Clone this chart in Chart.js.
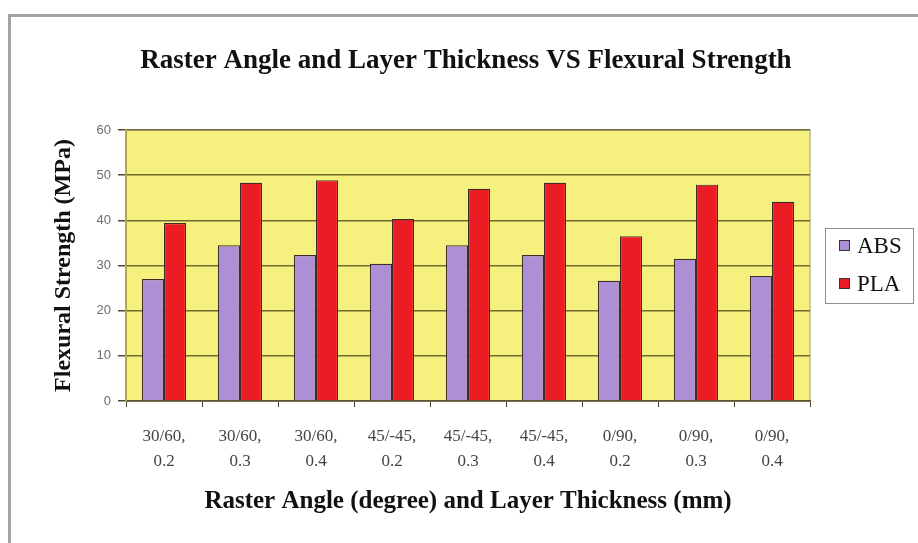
<!DOCTYPE html>
<html>
<head>
<meta charset="utf-8">
<script src="https://cdn.jsdelivr.net/npm/chart.js@4.4.1/dist/chart.umd.min.js"></script>
<style>
  html, body { margin: 0; padding: 0; background: #fff; }
  #wrap { position: relative; width: 918px; height: 543px; overflow: hidden; }
  #frame { position: absolute; left: 8px; top: 14px; width: 960px; height: 600px;
           border-left: 3px solid #a4a4a4; border-top: 3px solid #a4a4a4; }
  canvas { position: absolute; left: 0; top: 0; }
</style>
</head>
<body>
<div id="wrap">
  <div id="frame"></div>
  <canvas id="myChart" width="918" height="543"></canvas>
</div>
<script>
var chartTitle = 'Raster Angle and Layer Thickness VS Flexural Strength';
var xTitle = 'Raster Angle (degree) and Layer Thickness (mm)';
var yTitle = 'Flexural Strength (MPa)';

var categories = [
    ['30/60,', '0.2'], ['30/60,', '0.3'], ['30/60,', '0.4'],
    ['45/-45,', '0.2'], ['45/-45,', '0.3'], ['45/-45,', '0.4'],
    ['0/90,', '0.2'], ['0/90,', '0.3'], ['0/90,', '0.4']
];
var absValues = [27.0, 34.5, 32.3, 30.4, 34.5, 32.3, 26.6, 31.5, 27.7];
var plaValues = [39.4, 48.3, 48.9, 40.3, 47.0, 48.3, 36.5, 47.9, 44.1];
var yTicks = [0, 10, 20, 30, 40, 50, 60];

var serif = "'Liberation Serif', 'Times New Roman', serif";

// yellow plot area + its border
var plotBackground = {
    id: 'plotBackground',
    beforeDraw: function (chart) {
        var ctx = chart.ctx, a = chart.chartArea;
        ctx.save();
        ctx.fillStyle = '#f6f17e';
        ctx.fillRect(a.left, a.top, a.right - a.left, a.bottom - a.top);
        ctx.strokeStyle = '#b8b6a0';
        ctx.lineWidth = 1.5;
        ctx.strokeRect(a.left, a.top, a.right - a.left, a.bottom - a.top);
        ctx.restore();
    }
};

// title on top and the boxed legend on the right
var extras = {
    id: 'extras',
    afterDraw: function (chart) {
        var ctx = chart.ctx, a = chart.chartArea;
        ctx.save();
        ctx.fillStyle = '#111';
        ctx.font = 'bold 27px ' + serif;
        ctx.textAlign = 'center';
        ctx.textBaseline = 'middle';
        ctx.fillText(chartTitle, 466, 61);

        var lx = a.right + 15, lw = 88, lh = 75;
        var ly = (a.top + a.bottom) / 2 - lh / 2;
        ctx.strokeStyle = '#8c8c8c';
        ctx.lineWidth = 1;
        ctx.strokeRect(lx + 0.5, ly + 0.5, lw, lh);
        ctx.font = '23px ' + serif;
        ctx.textAlign = 'left';
        chart.data.datasets.forEach(function (ds, i) {
            var cy = ly + 18 + i * 38;
            ctx.fillStyle = ds.backgroundColor;
            ctx.fillRect(lx + 14, cy - 6, 11, 11);
            ctx.strokeStyle = '#333';
            ctx.strokeRect(lx + 14.5, cy - 5.5, 10, 10);
            ctx.fillStyle = '#111';
            ctx.fillText(ds.label, lx + 32, cy + 1);
        });
        ctx.restore();
    }
};

var ctx = document.getElementById('myChart').getContext('2d');
new Chart(ctx, {
    type: 'bar',
    data: {
        labels: categories,
        datasets: [
            { label: 'ABS', data: absValues, backgroundColor: '#ad8fd6', borderColor: '#3c2c28', borderWidth: 1.2 },
            { label: 'PLA', data: plaValues, backgroundColor: '#ec1c24', borderColor: '#3c2c28', borderWidth: 1.2 }
        ]
    },
    options: {
        responsive: false,
        animation: false,
        layout: { padding: { left: 0, right: 108, top: 130, bottom: 0 } },
        categoryPercentage: 0.58,
        barPercentage: 1.0,
        plugins: {
            legend: { display: false },
            title: { display: false },
            tooltip: { enabled: false }
        },
        scales: {
            x: {
                afterFit: function (scale) { scale.height = 142; },
                grid: { offset: true, drawOnChartArea: false, drawTicks: true, tickLength: 6, color: '#4c4830' },
                border: { color: '#5a5530', width: 1.5 },
                ticks: { color: '#444', padding: 17, font: { family: serif, size: 17, lineHeight: 1.47 } },
                title: { display: true, text: xTitle, color: '#111', padding: { top: 0, bottom: 26 },
                         font: { family: serif, size: 25, weight: 'bold' } }
            },
            y: {
                min: 0,
                max: 60,
                afterFit: function (scale) { scale.width = 126; },
                afterBuildTicks: function (scale) {
                    scale.ticks = yTicks.map(function (v) { return { value: v }; });
                },
                grid: { color: '#6f6a2e', lineWidth: 1.5, tickLength: 8, tickColor: '#4c4830' },
                border: { color: '#b0a844', width: 2 },
                ticks: { color: '#6e6e6e', padding: 7, font: { family: "'Liberation Sans', Arial, sans-serif", size: 13 } },
                title: { display: true, text: yTitle, color: '#111', padding: { top: 49, bottom: 0 },
                         font: { family: serif, size: 24, weight: 'bold' } }
            }
        }
    },
    plugins: [plotBackground, extras]
});
</script>
</body>
</html>
